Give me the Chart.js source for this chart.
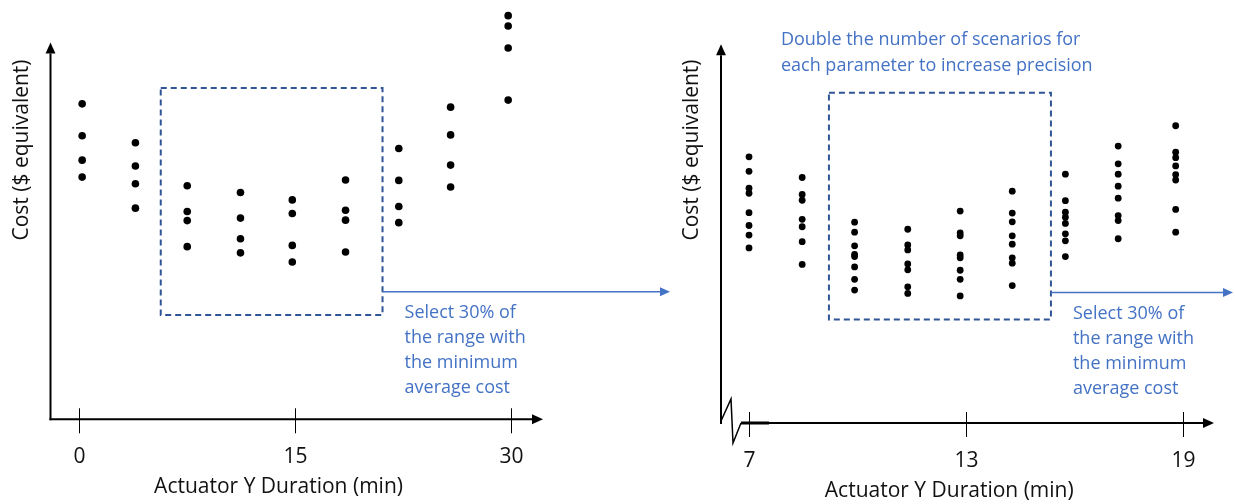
<!DOCTYPE html>
<html>
<head>
<meta charset="utf-8">
<title>Actuator Y duration sweep</title>
<script src="https://cdn.jsdelivr.net/npm/chart.js@4.4.1/dist/chart.umd.min.js"></script>
<style>
    html, body { margin: 0; padding: 0; background: #ffffff; }
    #wrap { position: relative; width: 1235px; height: 504px; overflow: hidden; background: #ffffff; }
    #left-chart { position: absolute; left: 0; top: 0; }
    #right-chart { position: absolute; left: 617px; top: 0; }
</style>
</head>
<body>
<div id="wrap">
    <canvas id="left-chart" width="690" height="504"></canvas>
    <canvas id="right-chart" width="618" height="504"></canvas>
</div>
<script>
// --- Data (cost in arbitrary $-equivalent units) ---

// Coarse sweep: 4 scenarios per duration
const leftDurations = [0.2, 3.9, 7.5, 11.2, 14.8, 18.5, 22.2, 25.8, 29.8];
const leftCosts = [
    [76.2, 68.5, 62.6, 58.5],
    [66.8, 61.2, 56.9, 51.0],
    [56.4, 50.2, 48.0, 41.7],
    [54.8, 48.6, 43.6, 40.2],
    [53.0, 49.7, 42.0, 38.0],
    [57.8, 50.5, 48.1, 40.4],
    [65.4, 57.7, 51.4, 47.5],
    [75.4, 68.7, 61.4, 56.1],
    [97.5, 95.0, 89.7, 77.1]
];
const leftTicks = [0, 15, 30];
const leftSelection = { xMin: 5.66, xMax: 21.07, yMin: 25.2, yMax: 80.0 };

// Refined sweep: double the scenarios per duration
const rightDurations = [7.0, 8.47, 9.92, 11.39, 12.84, 14.28, 15.75, 17.21, 18.8];
const rightCosts = [
    [64.3, 60.8, 56.7, 55.5, 50.8, 47.7, 45.4, 42.3],
    [59.3, 55.2, 53.8, 49.2, 47.4, 43.8, 38.3],
    [48.5, 46.1, 42.8, 40.7, 40.2, 37.7, 34.7, 32.1],
    [46.8, 43.0, 41.8, 38.4, 37.0, 32.9, 31.3],
    [51.2, 45.9, 45.2, 40.6, 39.9, 36.9, 34.7, 30.7],
    [56.0, 50.7, 48.6, 45.2, 43.2, 39.9, 38.6, 33.2],
    [60.1, 53.7, 50.9, 49.7, 48.2, 45.7, 44.0, 40.2],
    [66.9, 62.6, 60.1, 57.2, 54.3, 50.1, 48.9, 44.5],
    [71.8, 65.4, 64.1, 62.1, 60.0, 58.7, 51.6, 46.1]
];
const rightTicks = [7, 13, 19];
const rightSelection = { xMin: 9.21, xMax: 15.35, yMin: 25.0, yMax: 79.8 };

const xTitle = 'Actuator Y Duration (min)';
const yTitle = 'Cost ($ equivalent)';
const selectNote = ['Select 30% of', 'the range with', 'the minimum', 'average cost'];
const doubleNote = ['Double the number of scenarios for', 'each parameter to increase precision'];

const TEXT_FONT = '"Open Sans", "DejaVu Sans", sans-serif';
const NOTE_BLUE = '#4472c4';
const BOX_BLUE = '#2f5597';

function toPoints(durations, costs) {
    const pts = [];
    durations.forEach((d, i) => {
        costs[i].forEach(c => pts.push({ x: d, y: c }));
    });
    return pts;
}

function drawArrow(ctx, x1, y1, x2, y2, color, width, head) {
    const ang = Math.atan2(y2 - y1, x2 - x1);
    const bx = x2 - head * Math.cos(ang);
    const by = y2 - head * Math.sin(ang);
    const hw = head * 0.45;
    ctx.save();
    ctx.strokeStyle = color;
    ctx.fillStyle = color;
    ctx.lineWidth = width;
    ctx.beginPath();
    ctx.moveTo(x1, y1);
    ctx.lineTo(bx, by);
    ctx.stroke();
    ctx.beginPath();
    ctx.moveTo(x2, y2);
    ctx.lineTo(bx + hw * Math.sin(ang), by - hw * Math.cos(ang));
    ctx.lineTo(bx - hw * Math.sin(ang), by + hw * Math.cos(ang));
    ctx.closePath();
    ctx.fill();
    ctx.restore();
}

// Hand-drawn style axes, selection box and notes
const sketchAxes = {
    id: 'sketchAxes',
    beforeDraw(chart) {
        const ctx = chart.ctx;
        ctx.save();
        ctx.fillStyle = '#ffffff';
        if (chart.canvas.id === 'left-chart') ctx.fillRect(0, 0, chart.width, chart.height);
        ctx.restore();
    },
    afterDraw(chart, args, o) {
        const ctx = chart.ctx;
        const a = chart.chartArea;
        const xs = chart.scales.x;
        const ys = chart.scales.y;
        const baseY = ys.getPixelForValue(0);

        // y axis with arrow
        drawArrow(ctx, a.left, baseY + 1, a.left, ys.getPixelForValue(o.yArrowTo), '#000', 2, 11);

        // x axis (optionally with a break mark)
        let startX = a.left - 1;
        if (o.axisBreak) {
            ctx.save();
            ctx.strokeStyle = '#000';
            ctx.lineWidth = 1.5;
            ctx.beginPath();
            ctx.moveTo(a.left, baseY - 2);
            ctx.lineTo(a.left + 10, baseY - 24);
            ctx.lineTo(a.left + 12, baseY + 20);
            ctx.lineTo(a.left + 20, baseY);
            ctx.stroke();
            ctx.lineWidth = 3;
            ctx.beginPath();
            ctx.moveTo(a.left + 20, baseY);
            ctx.lineTo(a.left + 48, baseY);
            ctx.stroke();
            ctx.restore();
            startX = a.left + 20;
        }
        drawArrow(ctx, startX, baseY, a.right, baseY, '#000', 2, 11);

        // tick marks and labels
        ctx.save();
        ctx.strokeStyle = '#000';
        ctx.fillStyle = '#111';
        ctx.lineWidth = 1;
        ctx.font = '21px ' + TEXT_FONT;
        ctx.textAlign = 'center';
        ctx.textBaseline = 'middle';
        o.ticks.forEach(t => {
            const px = Math.round(xs.getPixelForValue(t)) + 0.5;
            ctx.beginPath();
            ctx.moveTo(px, baseY - 11);
            ctx.lineTo(px, baseY + 14);
            ctx.stroke();
            ctx.fillText(String(t), px, baseY + 38);
        });

        // axis titles
        ctx.fillText(xTitle, a.left + (a.right - a.left) * 0.463, baseY + 68);
        ctx.translate(o.yTitleX, 150);
        ctx.rotate(-Math.PI / 2);
        ctx.fillText(yTitle, 0, 0);
        ctx.restore();

        // dashed selection box
        const s = o.selection;
        const bl = xs.getPixelForValue(s.xMin);
        const br = xs.getPixelForValue(s.xMax);
        const bt = ys.getPixelForValue(s.yMax);
        const bb = ys.getPixelForValue(s.yMin);
        ctx.save();
        ctx.strokeStyle = BOX_BLUE;
        ctx.lineWidth = 2;
        ctx.setLineDash([6, 4]);
        ctx.strokeRect(bl, bt, br - bl, bb - bt);
        ctx.restore();

        // arrow towards the next step plus note
        const ay = ys.getPixelForValue(o.noteArrowY);
        drawArrow(ctx, br, ay, o.noteArrowTip, ay, NOTE_BLUE, 1.5, 10);
        ctx.save();
        ctx.fillStyle = NOTE_BLUE;
        ctx.font = '18px ' + TEXT_FONT;
        ctx.textAlign = 'left';
        ctx.textBaseline = 'middle';
        selectNote.forEach((line, i) => ctx.fillText(line, br + 22, ay + 21 + i * 25));
        if (o.topNote) {
            o.topNote.forEach((line, i) => ctx.fillText(line, bl - 48, bt - 53 + i * 26));
        }
        ctx.restore();
    }
};

function makeChart(canvasId, durations, costs, cfg) {
    const ctx = document.getElementById(canvasId).getContext('2d');
    return new Chart(ctx, {
        type: 'scatter',
        data: {
            datasets: [{
                label: 'Cost',
                data: toPoints(durations, costs),
                backgroundColor: '#000000',
                borderColor: '#000000',
                pointRadius: cfg.radius,
                pointHoverRadius: cfg.radius,
                borderWidth: 0,
                clip: false
            }]
        },
        options: {
            responsive: false,
            animation: false,
            layout: { padding: cfg.padding },
            plugins: {
                legend: { display: false },
                tooltip: { enabled: false },
                sketchAxes: cfg.axes
            },
            scales: {
                x: { type: 'linear', min: cfg.xMin, max: cfg.xMax, display: false },
                y: { type: 'linear', min: 0, max: 100, display: false }
            }
        },
        plugins: [sketchAxes]
    });
}

document.addEventListener('DOMContentLoaded', function() {
    makeChart('left-chart', leftDurations, leftCosts, {
        radius: 3.8,
        xMin: -2,
        xMax: 32.22,
        padding: { left: 50.5, right: 147, top: 5.3, bottom: 84.7 },
        axes: {
            ticks: leftTicks,
            yArrowTo: 91,
            yTitleX: 22,
            selection: leftSelection,
            noteArrowY: 30.8,
            noteArrowTip: 670
        }
    });
    makeChart('right-chart', rightDurations, rightCosts, {
        radius: 3.4,
        xMin: 6.225,
        xMax: 19.86,
        padding: { left: 104, right: 21, top: 9, bottom: 81 },
        axes: {
            ticks: rightTicks,
            yArrowTo: 91.5,
            yTitleX: 75,
            axisBreak: true,
            selection: rightSelection,
            noteArrowY: 31.5,
            noteArrowTip: 616,
            topNote: doubleNote
        }
    });
});
</script>
</body>
</html>
